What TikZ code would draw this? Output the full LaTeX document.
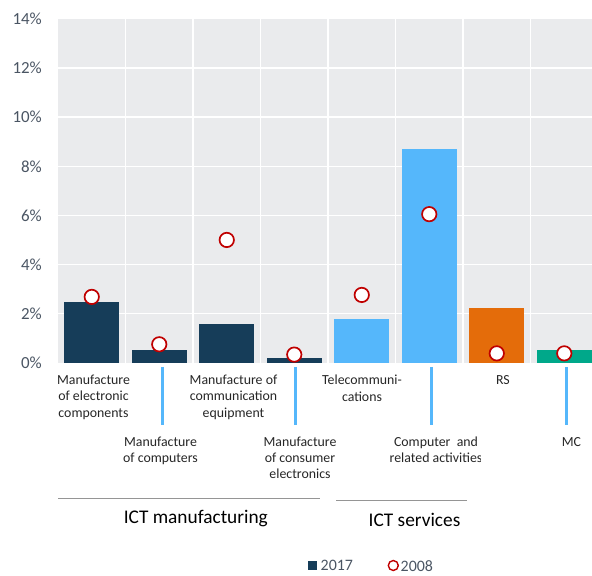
\documentclass[tikz,border=0pt]{standalone}
\usepackage{fontspec}
\setmainfont{Carlito}
\definecolor{navy}{HTML}{163D59}
\definecolor{lblue}{HTML}{55B7FB}
\definecolor{orng}{HTML}{E46C0A}
\definecolor{teal}{HTML}{00A88A}
\definecolor{plotbg}{HTML}{EAEBED}
\definecolor{redc}{HTML}{C00000}
\definecolor{tickc}{HTML}{4A5563}
\definecolor{grpline}{HTML}{959595}
\begin{document}
\begin{tikzpicture}[x=1bp,y=1bp,
  gridln/.style={draw=white,line width=1.5bp},
  oldmark/.style={draw=redc,fill=white,line width=1.7bp},
  ytick/.style={font=\fontsize{17}{20}\selectfont,text=tickc,anchor=east,inner sep=0pt},
  catlab/.style={font=\fontsize{13.9}{16.3}\selectfont,text=black!85,align=center,anchor=north,inner sep=0pt},
  catlabb/.style={font=\fontsize{13.9}{15.8}\selectfont,text=black!85,align=center,anchor=north,inner sep=0pt},
  guide/.style={draw=lblue,line width=3bp},
  grouprule/.style={draw=grpline,line width=1.3bp},
  grouplab/.style={font=\fontsize{19.4}{23}\selectfont,text=black,inner sep=0pt},
  leglab/.style={font=\fontsize{16}{19}\selectfont,text=tickc,anchor=west,inner sep=0pt}]
\useasboundingbox (0,0) rectangle (592,576);
\begin{scope}
\clip (0,0) rectangle (592,576);
\fill[plotbg] (58,213.3) rectangle (600,557);
\begin{scope}[shift={(58,213.3)},y=24.55bp]
  \foreach \v in {2,4,...,12} \draw[gridln] (0,\v) -- (545,\v);
  \foreach \k in {1,...,7} \draw[gridln] ({67.5*\k},0) -- ({67.5*\k},14);
  \foreach \i/\v/\c in {1/2.48/navy,2/0.52/navy,3/1.58/navy,4/0.18/navy,5/1.78/lblue,6/8.7/lblue,7/2.23/orng,8/0.52/teal}
    \fill[\c] ({67.5*(\i-0.5)-27.5},0) rectangle ({67.5*(\i-0.5)+27.5},\v);
  \foreach \i/\v in {1/2.68,2/0.75,3/5.0,4/0.33,5/2.76,6/6.05,7/0.38,8/0.38}
    \draw[oldmark] ({67.5*(\i-0.5)},\v) circle[radius=7.2bp];
  \foreach \v in {0,2,...,14} \node[ytick] (yt\v) at (-16,\v) {\v\%};
\end{scope}
\end{scope}
% category labels, first row
\node[catlab] (c1) at (93.5,201) {Manufacture\\of electronic\\components};
\node[catlab] (c3) at (233.5,201) {Manufacture of\\communication\\equipment};
\node[catlab] (c5) at (362,201) {Telecommuni-\\cations};
\node[catlab] (c7) at (503,201) {RS};
% second row
\node[catlabb] (c2) at (160.5,139) {Manufacture\\of computers};
\node[catlabb] (c4) at (300,139) {Manufacture\\of consumer\\electronics};
\begin{scope}
\clip (300,100) rectangle (480,150);
\node[catlabb] (c6) at (436,139) {Computer\ \ and\\related activities};
\end{scope}
\node[catlabb] (c8) at (571.5,139) {MC};
% guide lines
\foreach \x/\n in {162/g2,295.3/g4,431.7/g6,566.7/g8} {
  \coordinate (\n t) at (\x,209);
  \coordinate (\n b) at (\x,151);
  \draw[guide] (\n t) -- (\n b);
}
% group rules and labels
\coordinate (m1) at (58.3,77.3);
\coordinate (m2) at (320,77.3);
\coordinate (s1) at (336,75.3);
\coordinate (s2) at (466.7,75.3);
\draw[grouprule] (m1) -- (m2);
\draw[grouprule] (s1) -- (s2);
\node[grouplab] (gm) at (195.8,57) {ICT manufacturing};
\node[grouplab] (gs) at (414.5,56.5) {ICT services};
% legend
\fill[navy] (307.5,5.8) rectangle (316.5,14.8);
\node[leglab] (l17) at (320.5,10.3) {2017};
\draw[draw=redc,fill=white,line width=1.4bp] (393.3,10.5) circle[radius=5bp];
\node[leglab] (l08) at (400.5,10.3) {2008};
\end{tikzpicture}
\end{document}
